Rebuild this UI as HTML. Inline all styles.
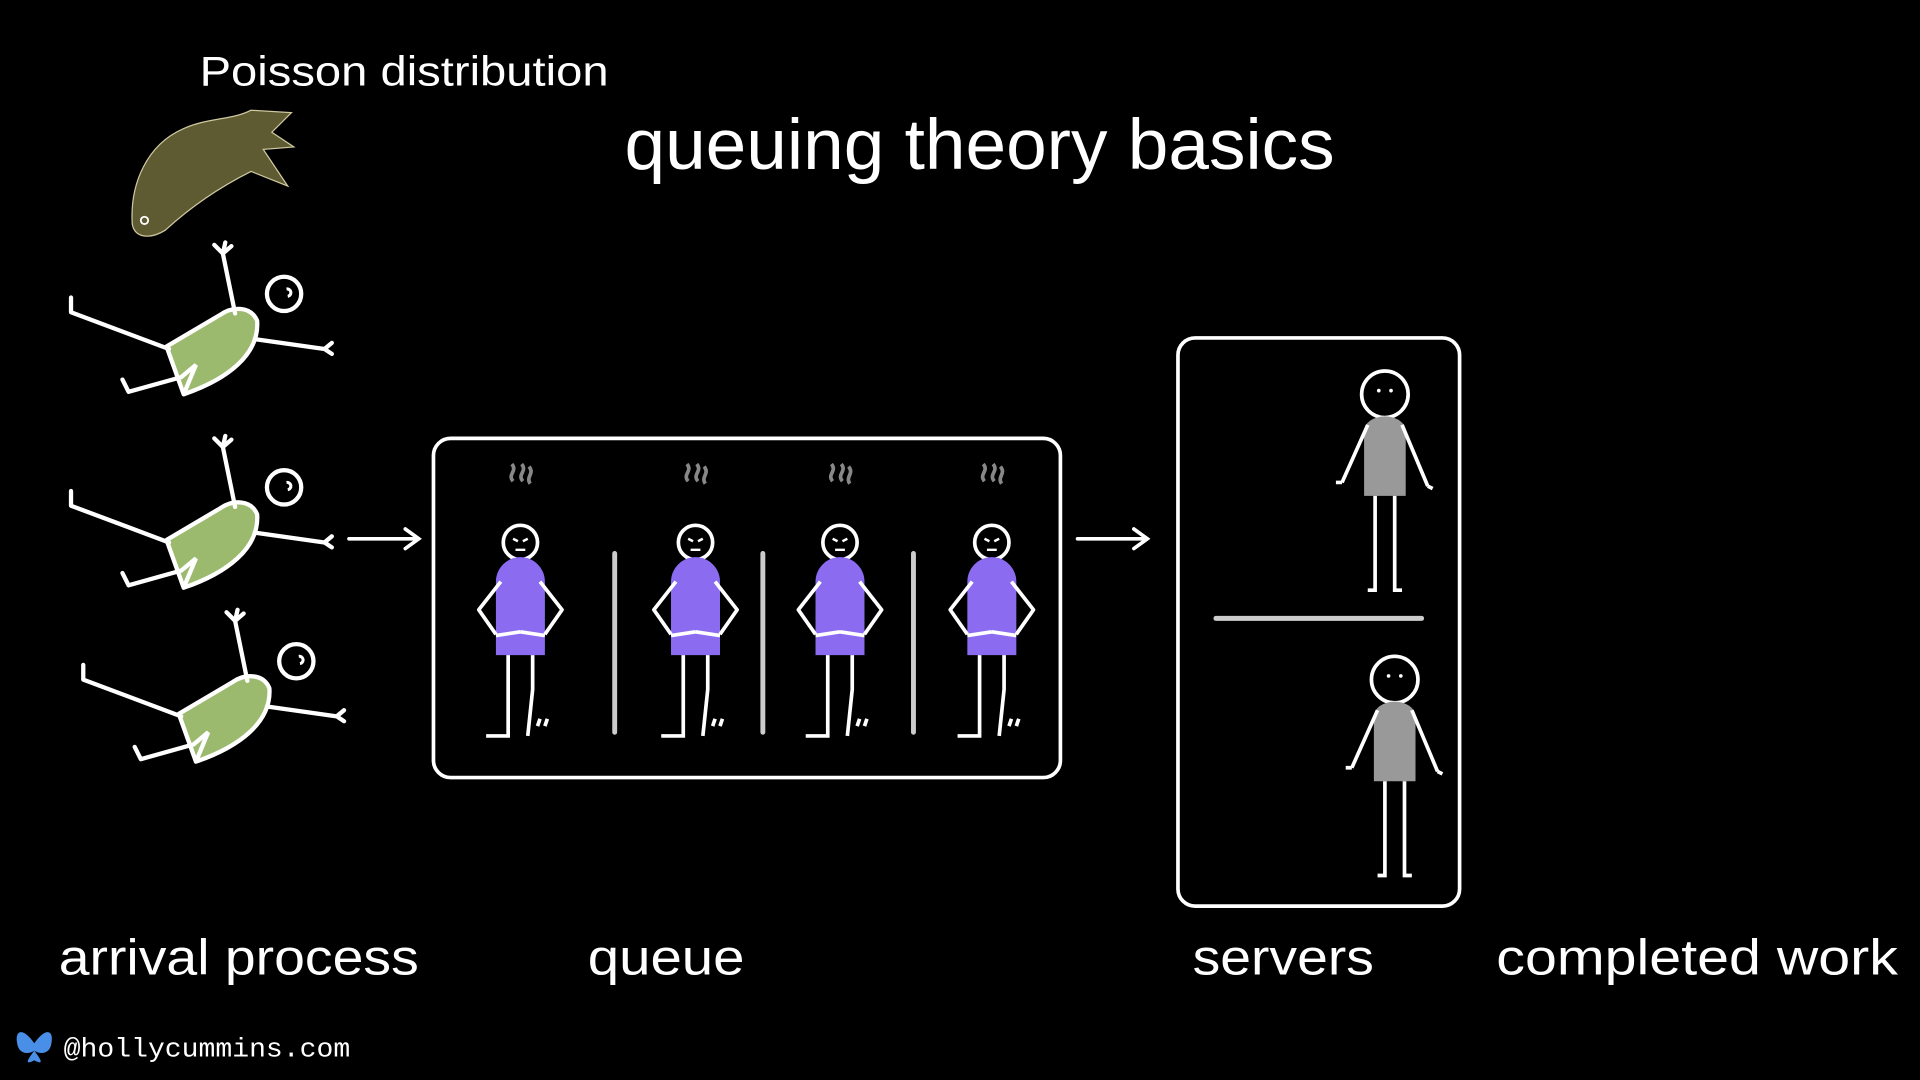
<!DOCTYPE html>
<html><head><meta charset="utf-8"><style>
html,body{margin:0;padding:0;background:#000;width:1920px;height:1080px;overflow:hidden}
svg{display:block}
text{font-family:"Liberation Sans",sans-serif;fill:#fff}
</style></head><body>
<svg width="1920" height="1080" viewBox="0 0 1568 882" xmlns="http://www.w3.org/2000/svg">
<defs>
<g id="lie">
  <path d="M136,283 L150,322 C185,310 212,290 210,262 C205,250 190,250 180,257 Z" fill="#9cba6e" stroke="#fff" stroke-width="3.5" stroke-linejoin="round"/>
  <path d="M150,322 L160,298 L148,308" fill="none" stroke="#fff" stroke-width="3.5"/>
  <path d="M138,285 L58,255 L58,243 M148,308 L105,320 L100,310 M192,256 L182,207 M182,207 L175,200 M182,207 L184,198 M182,207 L189,201 M208,277 L265,285 M265,285 L271,280 M265,285 L271,289" fill="none" stroke="#fff" stroke-width="3.5" stroke-linecap="round" stroke-linejoin="round"/>
  <circle cx="232" cy="240" r="14" fill="none" stroke="#fff" stroke-width="3.5"/>
  <path d="M234,236 a3,3 0 1 1 1,6" fill="none" stroke="#fff" stroke-width="2.5"/>
</g>
<g id="q">
  <path d="M-6,-50 c-5,-6 4,-8 -1,-14 M2,-50 c-5,-6 4,-8 -1,-14 M8,-48 c-4,-6 4,-8 -1,-14" fill="none" stroke="#888" stroke-width="3"/>
  <circle cx="0" cy="0" r="14" fill="none" stroke="#fff" stroke-width="3"/>
  <path d="M-6,-3 l4,2 M6,-3 l-4,2 M-4,6 h8" stroke="#fff" stroke-width="2"/>
  <path d="M-20,32 a20,20 0 0 1 40,0 V92 H-20 Z" fill="#8b6cf0"/>
  <path d="M-16,32 L-34,55 L-20,75 M16,32 L34,55 L20,75 M-20,76 l20,-3 M20,76 l-20,-3" fill="none" stroke="#fff" stroke-width="3" stroke-linejoin="round"/>
  <path d="M-10,92 V158 H-28 M10,92 V120 L6,158 M14,150 l2,-6 M20,150 l2,-6" fill="none" stroke="#fff" stroke-width="3"/>
</g>
<g id="s">
  <circle cx="0" cy="0" r="19" fill="none" stroke="#fff" stroke-width="3"/>
  <circle cx="-5" cy="-3" r="1.5" fill="#fff"/><circle cx="5" cy="-3" r="1.5" fill="#fff"/>
  <path d="M-17,30 a17,12 0 0 1 34,0 V83 H-17 Z" fill="#999"/>
  <path d="M-14,25 L-35,72 M14,25 L35,75 M-35,72 l-5,0 M35,75 l4,2" fill="none" stroke="#fff" stroke-width="3"/>
  <path d="M-8,83 V160 H-14 M8,83 V160 H14" fill="none" stroke="#fff" stroke-width="3"/>
</g>
</defs>
<text x="163" y="70" font-size="34" textLength="334" lengthAdjust="spacingAndGlyphs">Poisson distribution</text>
<text x="510" y="138" font-size="58" textLength="580" lengthAdjust="spacingAndGlyphs">queuing theory basics</text>
<!-- fish -->
<path d="M108,183 C106,150 120,118 150,105 C170,96 190,98 205,90 L238,92 L222,108 L240,120 L215,122 L235,152 L205,140 C185,150 160,165 135,188 C122,196 110,194 108,183 Z" fill="#5e5a32" stroke="#cfc9a0" stroke-width="1"/>
<circle cx="118" cy="180" r="3" fill="none" stroke="#fff" stroke-width="1.5"/>
<use href="#lie"/>
<use href="#lie" transform="translate(0,158)"/>
<use href="#lie" transform="translate(10,300)"/>
<!-- arrows -->
<path d="M285,440 H341 M331,432 L342,440 L331,448" fill="none" stroke="#fff" stroke-width="3" stroke-linecap="round"/>
<path d="M880,440 H936 M926,432 L937,440 L926,448" fill="none" stroke="#fff" stroke-width="3" stroke-linecap="round"/>
<!-- queue -->
<rect x="354" y="358" width="512" height="277" rx="14" fill="none" stroke="#fff" stroke-width="3"/>
<path d="M502,452 V598 M623,452 V598 M746,452 V598" stroke="#ccc" stroke-width="4" stroke-linecap="round"/>
<use href="#q" transform="translate(425,443)"/>
<use href="#q" transform="translate(568,443)"/>
<use href="#q" transform="translate(686,443)"/>
<use href="#q" transform="translate(810,443)"/>
<!-- servers -->
<rect x="962" y="276" width="230" height="464" rx="14" fill="none" stroke="#fff" stroke-width="3"/>
<path d="M993,505 H1161" stroke="#ccc" stroke-width="4" stroke-linecap="round"/>
<use href="#s" transform="translate(1131,322)"/>
<use href="#s" transform="translate(1139,555)"/>
<text x="48" y="796" font-size="41" textLength="294" lengthAdjust="spacingAndGlyphs">arrival process</text>
<text x="480" y="796" font-size="41" textLength="128" lengthAdjust="spacingAndGlyphs">queue</text>
<text x="974" y="796" font-size="41" textLength="148" lengthAdjust="spacingAndGlyphs">servers</text>
<text x="1222" y="796" font-size="41" textLength="328" lengthAdjust="spacingAndGlyphs">completed work</text>
<path d="M28,852 C18,838 12,842 14,852 C15,860 22,862 28,858 C34,862 41,860 42,852 C44,842 38,838 28,852 Z M28,858 C22,866 20,870 28,866 C36,870 34,866 28,858Z" fill="#4a8fe7"/>
<text x="52" y="863" font-size="22" textLength="234" lengthAdjust="spacingAndGlyphs" style="font-family:'Liberation Mono',monospace">@hollycummins.com</text>
</svg>
</body></html>
